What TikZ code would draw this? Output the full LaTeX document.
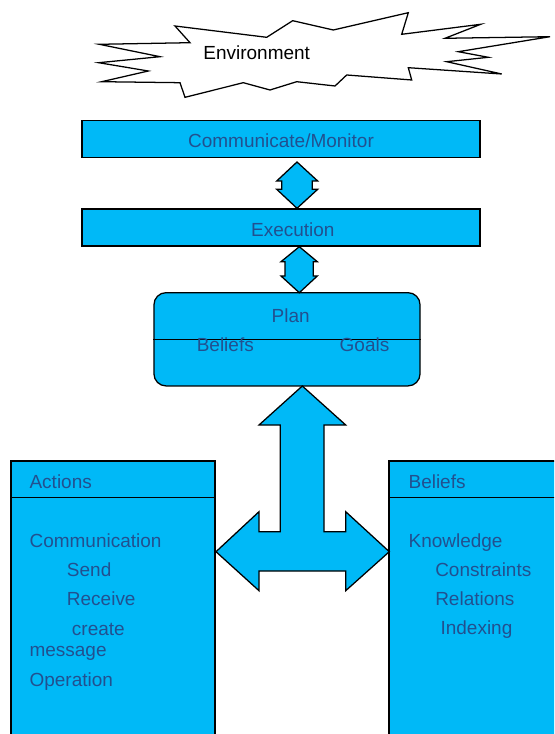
\documentclass[tikz,border=0pt]{standalone}
\usepackage{fontspec}
\setmainfont{Liberation Sans}
\usepackage{tikz}
\usepackage{xcolor}
\usetikzlibrary{positioning,calc}
\definecolor{skyfill}{HTML}{00B9F7}
\definecolor{labelblue}{HTML}{22508F}
\tikzset{
  panel/.style={draw=black,fill=skyfill,line width=0.9pt,inner sep=0pt},
  roundpanel/.style={panel,rounded corners=0.3cm},
  blockarr/.style={draw=black,fill=skyfill,line width=0.9pt,line join=miter},
  burst/.style={draw=black,fill=white,line width=0.9pt,line join=miter},
  lbl/.style={inner sep=0pt,text=labelblue,font=\fontsize{13.5}{16}\selectfont},
  envlbl/.style={inner sep=0pt,text=black,font=\fontsize{13.5}{16}\selectfont}
}

\begin{document}
\begin{tikzpicture}[x=0.025cm,y=-0.025cm]
    \path[use as bounding box] (0,0) rectangle (554,734);
    \clip (0,0) rectangle (554,734);

    % environment burst
    \draw[burst] (98.7,62.7) -- (160,56.7) -- (99.3,44.3) -- (190,42.7)
      -- (175,26) -- (266.7,37.3) -- (292.7,20.7) -- (333.3,30)
      -- (408.3,12.7) -- (401.7,34.3) -- (480.7,24.3) -- (445,38.3)
      -- (550,36.7) -- (458.3,51.7) -- (488.3,57.3) -- (446.7,61.7)
      -- (501.7,74) -- (408.3,67.7) -- (411.7,80) -- (346.7,75)
      -- (335,86) -- (296.7,81.7) -- (270,90) -- (243.3,82.7)
      -- (185,97.3) -- (180,82.7) -- (101.7,81.7) -- (148.3,71) -- cycle;
    \node[envlbl,anchor=base] (env) at (256.7,60) {Environment};

    % layer stack
    \node[panel,minimum width=9.95cm,minimum height=0.925cm] (comm) at (281,139.3) {};
    \node[lbl,anchor=base] (commtxt) at (281,147.5) {Communicate/Monitor};
    \node[panel,minimum width=9.95cm,minimum height=0.925cm] (exec) at (281,227.5) {};
    \node[lbl,anchor=base] (exectxt) at (292.8,236.3) {Execution};
    \node[roundpanel,minimum width=6.65cm,minimum height=2.33cm] (plan) at (287,339.3) {};
    \draw[line width=0.9pt] (plan.west) -- (plan.east);
    \node[lbl,anchor=base] (plantxt) at (290.7,322.7) {Plan};
    \node[lbl,anchor=base] (planbel) at (225.3,351.7) {Beliefs};
    \node[lbl,anchor=base] (plangoal) at (364.5,351.7) {Goals};

    % double arrows between layers
    \draw[blockarr] (297,162) -- (317.7,181) -- (312.3,181) -- (312.3,189.3)
      -- (317.7,189.3) -- (297,208.3) -- (276.7,189.3) -- (281.7,189.3)
      -- (281.7,181) -- (276.7,181) -- cycle;
    \draw[blockarr] (299.3,246.7) -- (317.3,261.7) -- (313.3,261.7) -- (313.3,276)
      -- (317.3,276) -- (299.3,292.7) -- (281,276) -- (285,276)
      -- (285,261.7) -- (281,261.7) -- cycle;

    % side panels
    \node[panel,minimum width=5.1cm,minimum height=7.5cm] (acts) at (113,611) {};
    \draw[line width=0.9pt] (acts.west |- 0,497.7) -- (acts.east |- 0,497.7);
    \node[panel,minimum width=4.8cm,minimum height=7.5cm] (bels) at (485,611) {};
    \draw[line width=0.9pt] (bels.west |- 0,497.7) -- (bels.east |- 0,497.7);

    \node[lbl,anchor=base west] (acthead) at (29.3,488.3) {Actions};
    \node[lbl,anchor=base west] (comms) at (29.3,547.3) {Communication};
    \node[lbl,anchor=base west] (send) at (66.7,576.5) {Send};
    \node[lbl,anchor=base west] (recv) at (66.7,605.5) {Receive};
    \node[lbl,anchor=base west] (create) at (71.7,635) {create};
    \node[lbl,anchor=base west] (msg) at (29.3,656.5) {message};
    \node[lbl,anchor=base west] (oper) at (29.3,686) {Operation};

    \node[lbl,anchor=base west] (belhead) at (408.3,488.3) {Beliefs};
    \node[lbl,anchor=base west] (know) at (408.3,547.3) {Knowledge};
    \node[lbl,anchor=base west] (cons) at (435,576.3) {Constraints};
    \node[lbl,anchor=base west] (rels) at (435,605.3) {Relations};
    \node[lbl,anchor=base west] (idx) at (440.3,634.3) {Indexing};

    % three-way arrow: plan, actions, beliefs
    \draw[blockarr] (302.3,386) -- (345.7,425) -- (324,425) -- (324,531.7)
      -- (345.7,531.7) -- (345.7,511.7) -- (389.3,551.7) -- (345.7,590.7)
      -- (345.7,571) -- (259,571) -- (259,590.7) -- (216,551.7)
      -- (259,511.7) -- (259,531.7) -- (280.3,531.7) -- (280.3,425)
      -- (259,425) -- cycle;
  \end{tikzpicture}
\end{document}
